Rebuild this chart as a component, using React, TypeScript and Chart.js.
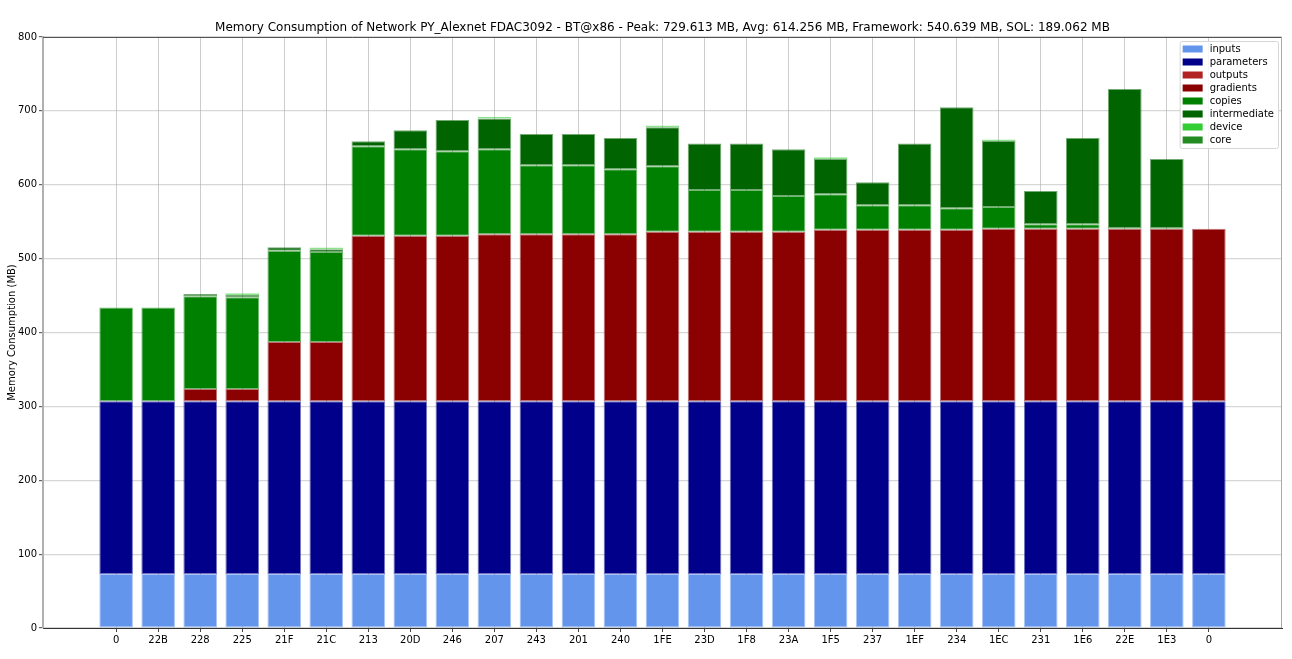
import React, { useEffect, useRef } from "react";
import { Chart, registerables } from "chart.js";

Chart.register(...registerables);

const TITLE =
  "Memory Consumption of Network PY_Alexnet FDAC3092 - BT@x86 - Peak: 729.613 MB, Avg: 614.256 MB, Framework: 540.639 MB, SOL: 189.062 MB";
const Y_TITLE = "Memory Consumption (MB)";

const categories = ["0", "22B", "228", "225", "21F", "21C", "213", "20D", "246", "207", "243", "201", "240", "1FE", "23D", "1F8", "23A", "1F5", "237", "1EF", "234", "1EC", "231", "1E6", "22E", "1E3", "0"];

const inputs = [73, 73, 73, 73, 73, 73, 73, 73, 73, 73, 73, 73, 73, 73, 73, 73, 73, 73, 73, 73, 73, 73, 73, 73, 73, 73, 73];
const parameters = [234, 234, 234, 234, 234, 234, 234, 234, 234, 234, 234, 234, 234, 234, 234, 234, 234, 234, 234, 234, 234, 234, 234, 234, 234, 234, 234];
const outputs = [0, 0, 0, 0, 0, 0, 0, 0, 0, 0, 0, 0, 0, 0, 0, 0, 0, 0, 0, 0, 0, 0, 0, 0, 0, 0, 0];
const gradients = [0, 0, 16.5, 16.5, 80, 80, 224, 224, 224, 226, 226, 226, 226, 229.5, 229.5, 229.5, 229.5, 232.2, 232.2, 232.2, 232.2, 233.6, 233.6, 233.6, 233.6, 233.6, 233.6];
const copies = [127, 127, 125.5, 124.1, 123.7, 122, 121, 117, 114.3, 115, 93.3, 93.3, 87.9, 88.4, 56.4, 56.4, 48.3, 47.8, 33, 33, 28.9, 29.3, 5.9, 5.9, 0.9, 0.9, 0];
const intermediate = [0, 0, 3.1, 3.2, 4.6, 3.6, 6.8, 25.7, 42.3, 41.6, 42.4, 42.4, 42.4, 52.8, 63.1, 63.1, 63.2, 47.9, 31.1, 83.8, 136.7, 89.3, 45, 116.8, 188.1, 93.4, 0];
const device = [0, 0, 0, 2.4, 0, 2.5, 0, 0, 0, 2.5, 0, 0, 0, 2.5, 0, 0, 0, 2.2, 0, 0, 0, 2, 0, 0, 0, 0, 0];
const core = [0, 0, 0, 0, 0, 0, 0, 0, 0, 0, 0, 0, 0, 0, 0, 0, 0, 0, 0, 0, 0, 0, 0, 0, 0, 0, 0];

const yTicks = [0, 100, 200, 300, 400, 500, 600, 700, 800];

const seriesNames = ["inputs", "parameters", "outputs", "gradients", "copies", "intermediate", "device", "core"];
const seriesValues = [inputs, parameters, outputs, gradients, copies, intermediate, device, core];
const seriesColors = ["#6495ED", "#00008B", "#B22222", "#8B0000", "#008000", "#006400", "#32CD32", "#228B22"];

const FONT = "'DejaVu Sans', 'Liberation Sans', sans-serif";

function hexToRgba(hex: string, a: number) {
  const n = parseInt(hex.slice(1), 16);
  return `rgba(${(n >> 16) & 255},${(n >> 8) & 255},${n & 255},${a})`;
}

const framePlugin = {
  id: "frame",
  afterDraw(chart: any) {
    const { ctx, chartArea } = chart;
    const { left, right, top, bottom } = chartArea;
    ctx.save();
    ctx.strokeStyle = "#555555";
    ctx.lineWidth = 1;
    ctx.beginPath();
    ctx.moveTo(left, top + 0.5);
    ctx.lineTo(right, top + 0.5);
    ctx.stroke();
    ctx.strokeStyle = "#aaaaaa";
    ctx.beginPath();
    ctx.moveTo(right - 0.5, top);
    ctx.lineTo(right - 0.5, bottom);
    ctx.stroke();

    ctx.fillStyle = "#000";
    ctx.font = `12px ${FONT}`;
    ctx.textAlign = "center";
    ctx.textBaseline = "middle";
    ctx.fillText(TITLE, (left + right) / 2, top - 9);

    ctx.font = `10px ${FONT}`;
    let maxW = 0;
    chart.data.datasets.forEach((ds: any) => {
      maxW = Math.max(maxW, ctx.measureText(ds.label).width);
    });
    const rowH = 13;
    const n = chart.data.datasets.length;
    const boxW = 3 + 20 + 7 + maxW + 4;
    const boxH = n * rowH + 3;
    const bx = right - 4 - boxW;
    const by = top + 4;
    ctx.fillStyle = "rgba(255,255,255,0.85)";
    ctx.strokeStyle = "#d6d6d6";
    ctx.lineWidth = 1;
    ctx.beginPath();
    if (ctx.roundRect) ctx.roundRect(bx + 0.5, by + 0.5, boxW, boxH, 2);
    else ctx.rect(bx + 0.5, by + 0.5, boxW, boxH);
    ctx.fill();
    ctx.stroke();
    ctx.textAlign = "left";
    ctx.textBaseline = "middle";
    chart.data.datasets.forEach((ds: any, i: number) => {
      const cy = by + 8 + i * rowH;
      ctx.fillStyle = ds.backgroundColor;
      ctx.fillRect(bx + 3, cy - 3.5, 20, 7);
      ctx.fillStyle = "#000";
      ctx.fillText(ds.label, bx + 30, cy);
    });
    ctx.restore();
  },
};

export default function App() {
  const canvasRef = useRef<HTMLCanvasElement | null>(null);

  useEffect(() => {
    if (!canvasRef.current) return;
    const datasets = seriesNames.map((name, si) => ({
      label: name,
      data: seriesValues[si].map((v, i) => ({ x: i, y: v })),
      backgroundColor: seriesColors[si],
      borderColor: hexToRgba(seriesColors[si], 0.55),
      borderWidth: (c: any) => (c.raw && c.raw.y > 0 ? 1 : 0),
      borderSkipped: false,
      barPercentage: 0.8,
      categoryPercentage: 1.0,
    }));

    const chart = new Chart(canvasRef.current, {
      type: "bar",
      data: { datasets },
      plugins: [framePlugin],
      options: {
        animation: false,
        responsive: true,
        maintainAspectRatio: false,
        layout: { padding: { top: 37, right: 10, left: 0, bottom: 0 } },
        plugins: {
          legend: { display: false },
          title: { display: false },
          tooltip: { enabled: false },
        },
        scales: {
          x: {
            type: "linear",
            stacked: true,
            offset: false,
            min: -1.74,
            max: 27.74,
            afterBuildTicks: (scale: any) => {
              scale.ticks = categories.map((_, i) => ({ value: i }));
            },
            afterFit: (scale: any) => {
              scale.height = 31;
            },
            ticks: {
              autoSkip: false,
              maxRotation: 0,
              padding: 2,
              color: "#000",
              font: { family: FONT, size: 10 },
              callback: (v: any) => categories[v as number] ?? "",
            },
            grid: {
              offset: false,
              color: "rgba(176,176,176,0.65)",
              lineWidth: 1,
              tickLength: 4,
              tickColor: "#444",
            },
            border: { display: true, color: "#333", width: 1 },
          },
          y: {
            type: "linear",
            stacked: true,
            min: 0,
            max: 800,
            afterBuildTicks: (scale: any) => {
              scale.ticks = yTicks.map((v) => ({ value: v }));
            },
            afterFit: (scale: any) => {
              scale.width = 43;
            },
            title: {
              display: true,
              text: Y_TITLE,
              color: "#000",
              font: { family: FONT, size: 10 },
              padding: { top: 6, bottom: 0 },
            },
            ticks: {
              padding: 2,
              color: "#000",
              font: { family: FONT, size: 10 },
            },
            grid: {
              color: "rgba(176,176,176,0.5)",
              lineWidth: 1.2,
              tickLength: 4,
              tickColor: "#666",
            },
            border: { display: true, color: "#b0b0b0", width: 2 },
          },
        },
      } as any,
    });
    return () => chart.destroy();
  }, []);

  return (
    <div style={{ position: "fixed", left: 0, top: 0, width: 1292, height: 659, background: "#fff" }}>
      <canvas ref={canvasRef} />
    </div>
  );
}
